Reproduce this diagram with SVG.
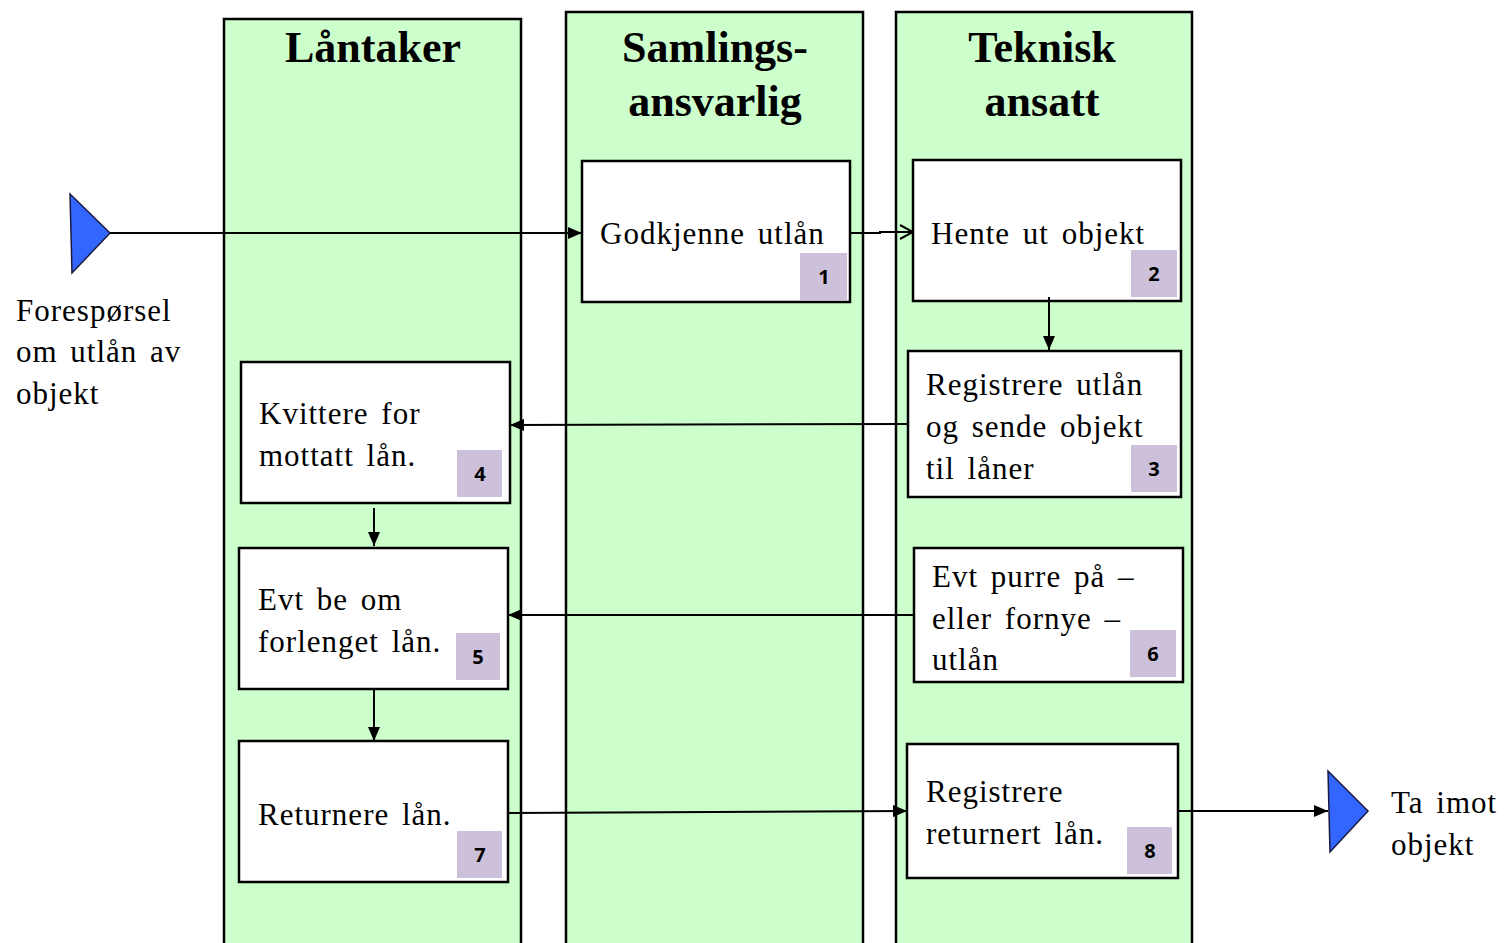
<svg xmlns="http://www.w3.org/2000/svg" width="1504" height="943" viewBox="0 0 1504 943">
<defs>
<style>
.lane{fill:#ccffcc;stroke:#000;stroke-width:2.5}
.hdr{font-family:"Liberation Serif","Times New Roman",serif;font-weight:bold;font-size:44px;text-anchor:middle;fill:#000}
.box{fill:#fff;stroke:#000;stroke-width:2.5}
.t{font-family:"Liberation Serif","Times New Roman",serif;font-size:31px;fill:#000;letter-spacing:1px;word-spacing:4px}
.badge{fill:#ccc0da}
.num{font-family:"Open Sans","DejaVu Sans",sans-serif;font-weight:bold;font-size:20px;text-anchor:middle;fill:#000}
.tri{fill:#3366ff;stroke:#1a1a40;stroke-width:1.5}
.c{fill:none;stroke:#000;stroke-width:2}
</style>
<marker id="arr" markerWidth="14" markerHeight="12" refX="14" refY="6" orient="auto" markerUnits="userSpaceOnUse">
<path d="M0,0 L14,6 L0,12 Z" fill="#000"/>
</marker>
<marker id="open" markerWidth="16" markerHeight="16" refX="15" refY="8" orient="auto" markerUnits="userSpaceOnUse">
<path d="M2,1 L15,8 L2,15" fill="none" stroke="#000" stroke-width="2"/>
</marker>
</defs>
<rect width="1504" height="943" fill="#fff"/>

<g id="lane-lantaker">
<rect class="lane" x="224" y="19" width="297" height="940"/>
<text class="hdr" x="373" y="62">Låntaker</text>
</g>
<g id="lane-samlingsansvarlig">
<rect class="lane" x="566" y="12" width="297" height="947"/>
<text class="hdr" x="715" y="62">Samlings-</text>
<text class="hdr" x="715" y="116">ansvarlig</text>
</g>
<g id="lane-teknisk">
<rect class="lane" x="896" y="12" width="296" height="947"/>
<text class="hdr" x="1042" y="62">Teknisk</text>
<text class="hdr" x="1042" y="116">ansatt</text>
</g>

<g id="start">
<polygon class="tri" points="70,194 110,233 72,273"/>
<text class="t" x="16" y="321">Forespørsel</text>
<text class="t" x="16" y="362">om utlån av</text>
<text class="t" x="16" y="404">objekt</text>
</g>
<g id="end">
<polygon class="tri" points="1328,771 1368,811 1330,852"/>
<text class="t" x="1391" y="813">Ta imot</text>
<text class="t" x="1391" y="855">objekt</text>
</g>

<g id="n1">
<rect class="box" x="582" y="161" width="268" height="141"/>
<text class="t" x="600" y="244">Godkjenne utlån</text>
<rect class="badge" x="800" y="253" width="47" height="47"/>
<text class="num" x="824" y="284">1</text>
</g>
<g id="n2">
<rect class="box" x="913" y="160" width="268" height="141"/>
<text class="t" x="931" y="244">Hente ut objekt</text>
<rect class="badge" x="1131" y="250" width="46" height="47"/>
<text class="num" x="1154" y="281">2</text>
</g>
<g id="n3">
<rect class="box" x="908" y="351" width="273" height="146"/>
<text class="t" x="926" y="395">Registrere utlån</text>
<text class="t" x="926" y="437">og sende objekt</text>
<text class="t" x="926" y="479">til låner</text>
<rect class="badge" x="1131" y="445" width="46" height="47"/>
<text class="num" x="1154" y="476">3</text>
</g>
<g id="n4">
<rect class="box" x="241" y="362" width="269" height="141"/>
<text class="t" x="259" y="424">Kvittere for</text>
<text class="t" x="259" y="466">mottatt lån.</text>
<rect class="badge" x="457" y="450" width="45" height="47"/>
<text class="num" x="480" y="481">4</text>
</g>
<g id="n5">
<rect class="box" x="239" y="548" width="269" height="141"/>
<text class="t" x="258" y="610">Evt be om</text>
<text class="t" x="258" y="652">forlenget lån.</text>
<rect class="badge" x="456" y="633" width="44" height="47"/>
<text class="num" x="478" y="664">5</text>
</g>
<g id="n6">
<rect class="box" x="914" y="548" width="269" height="134"/>
<text class="t" x="932" y="587">Evt purre på –</text>
<text class="t" x="932" y="629">eller fornye –</text>
<text class="t" x="932" y="670">utlån</text>
<rect class="badge" x="1130" y="630" width="46" height="47"/>
<text class="num" x="1153" y="661">6</text>
</g>
<g id="n7">
<rect class="box" x="239" y="741" width="269" height="141"/>
<text class="t" x="258" y="825">Returnere lån.</text>
<rect class="badge" x="457" y="831" width="45" height="47"/>
<text class="num" x="480" y="862">7</text>
</g>
<g id="n8">
<rect class="box" x="907" y="744" width="271" height="134"/>
<text class="t" x="926" y="802">Registrere</text>
<text class="t" x="926" y="844">returnert lån.</text>
<rect class="badge" x="1127" y="827" width="45" height="47"/>
<text class="num" x="1150" y="858">8</text>
</g>

<g id="connectors">
<line class="c" x1="110" y1="233" x2="582" y2="233" marker-end="url(#arr)"/>
<polyline class="c" points="850,233 880,233 880,232 913,232" marker-end="url(#open)"/>
<line class="c" x1="1049" y1="297" x2="1049" y2="350" marker-end="url(#arr)"/>
<line class="c" x1="908" y1="424" x2="510" y2="425" marker-end="url(#arr)"/>
<line class="c" x1="374" y1="508" x2="374" y2="546" marker-end="url(#arr)"/>
<line class="c" x1="914" y1="615" x2="508" y2="615" marker-end="url(#arr)"/>
<line class="c" x1="374" y1="689" x2="374" y2="741" marker-end="url(#arr)"/>
<line class="c" x1="508" y1="813" x2="907" y2="811" marker-end="url(#arr)"/>
<line class="c" x1="1178" y1="811" x2="1328" y2="811" marker-end="url(#arr)"/>
</g>
</svg>
